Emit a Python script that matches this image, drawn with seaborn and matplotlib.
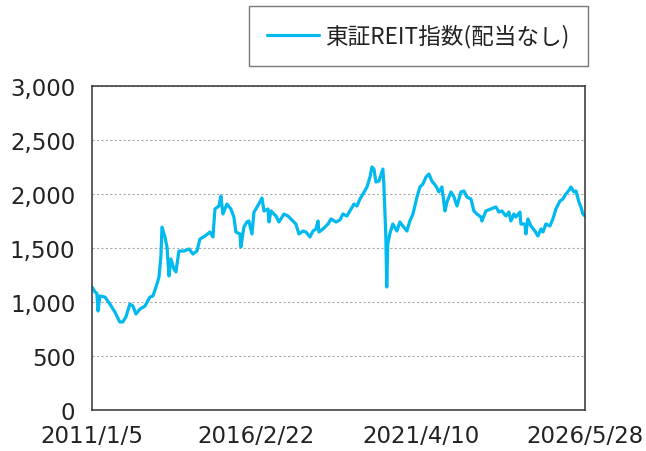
import pandas as pd
import matplotlib
matplotlib.use("Agg")
import matplotlib.pyplot as plt
import seaborn as sns

# 東証REIT指数(配当なし) - 図から読み取った値
dates = [
    "2011-01-05", "2011-02-08", "2011-03-01", "2011-03-15", "2011-04-05", "2011-06-01",
    "2011-07-28", "2011-09-23", "2011-11-18", "2011-12-22", "2012-01-26", "2012-03-12",
    "2012-04-16", "2012-05-20", "2012-07-05", "2012-08-31", "2012-10-27", "2012-11-30",
    "2013-01-04", "2013-02-07", "2013-03-01", "2013-03-13", "2013-04-16", "2013-05-09",
    "2013-06-01", "2013-06-23", "2013-07-27", "2013-08-19", "2013-09-22", "2013-11-18",
    "2014-01-15", "2014-03-01", "2014-04-16", "2014-05-20", "2014-07-16", "2014-09-11",
    "2014-10-15", "2014-11-07", "2014-12-22", "2015-01-14", "2015-02-06", "2015-03-24",
    "2015-05-08", "2015-06-11", "2015-07-04", "2015-08-19", "2015-08-30", "2015-10-03",
    "2015-11-06", "2015-11-29", "2016-01-03", "2016-01-26", "2016-02-17", "2016-04-03",
    "2016-04-26", "2016-05-19", "2016-07-04", "2016-07-15", "2016-08-07", "2016-10-03",
    "2016-11-06", "2017-01-02", "2017-02-17", "2017-04-15", "2017-05-18", "2017-06-22",
    "2017-08-07", "2017-09-10", "2017-10-26", "2017-11-29", "2018-01-02", "2018-01-25",
    "2018-02-05", "2018-03-23", "2018-05-19", "2018-06-22", "2018-08-18", "2018-10-03",
    "2018-11-06", "2018-12-21", "2019-01-24", "2019-03-11", "2019-04-15", "2019-05-19",
    "2019-06-22", "2019-08-07", "2019-09-10", "2019-10-02", "2019-10-25", "2019-11-17",
    "2019-12-21", "2020-01-24", "2020-02-04", "2020-02-15", "2020-03-09", "2020-03-19",
    "2020-03-31", "2020-04-23", "2020-05-27", "2020-07-13", "2020-08-16", "2020-09-19",
    "2020-11-04", "2020-12-08", "2021-01-12", "2021-02-27", "2021-04-02", "2021-05-06",
    "2021-06-09", "2021-07-13", "2021-08-16", "2021-10-01", "2021-11-04", "2021-12-08",
    "2022-01-12", "2022-02-04", "2022-03-22", "2022-04-25", "2022-05-29", "2022-07-13",
    "2022-08-16", "2022-09-19", "2022-11-04", "2022-12-08", "2023-01-11", "2023-02-26",
    "2023-03-09", "2023-04-24", "2023-06-20", "2023-08-16", "2023-09-19", "2023-10-23",
    "2023-12-08", "2024-01-11", "2024-02-03", "2024-03-08", "2024-03-31", "2024-05-16",
    "2024-05-27", "2024-07-12", "2024-07-23", "2024-08-15", "2024-09-18", "2024-11-03",
    "2024-12-07", "2025-01-11", "2025-02-03", "2025-03-08", "2025-04-23", "2025-05-27",
    "2025-06-30", "2025-08-15", "2025-09-18", "2025-10-22", "2025-12-07", "2025-12-18",
    "2026-01-22", "2026-02-14", "2026-03-20", "2026-04-11", "2026-05-04", "2026-05-28",
]
values = [
    1139, 1093, 1080, 917, 1056, 1046,
    981, 907, 815, 815, 861, 981,
    963, 889, 935, 963, 1046, 1056,
    1139, 1231, 1426, 1694, 1602, 1509,
    1241, 1398, 1306, 1278, 1472, 1472,
    1491, 1444, 1472, 1583, 1611, 1648,
    1602, 1861, 1889, 1981, 1815, 1907,
    1861, 1787, 1648, 1630, 1509, 1694,
    1741, 1750, 1630, 1833, 1861, 1926,
    1963, 1843, 1861, 1741, 1843, 1796,
    1741, 1815, 1796, 1750, 1722, 1630,
    1657, 1648, 1602, 1657, 1676, 1750,
    1648, 1676, 1722, 1769, 1741, 1760,
    1815, 1796, 1843, 1907, 1889, 1954,
    2000, 2065, 2157, 2250, 2231, 2111,
    2120, 2204, 2231, 2093, 1602, 1139,
    1537, 1630, 1722, 1657, 1741, 1704,
    1657, 1750, 1815, 1972, 2065, 2093,
    2157, 2185, 2120, 2074, 2019, 2065,
    1843, 1926, 2019, 1972, 1889, 2019,
    2028, 1972, 1954, 1843, 1815, 1787,
    1750, 1843, 1861, 1880, 1833, 1843,
    1796, 1833, 1750, 1815, 1787, 1833,
    1722, 1722, 1630, 1769, 1704, 1657,
    1611, 1676, 1648, 1722, 1704, 1769,
    1861, 1935, 1954, 2000, 2046, 2065,
    2019, 2028, 1926, 1880, 1815, 1796,
]
series_name = "東証REIT指数(配当なし)"
tick_dates = ["2011-01-05", "2016-02-22", "2021-04-10", "2026-05-28"]
tick_labels = ["2011/1/5", "2016/2/22", "2021/4/10", "2026/5/28"]
y_ticks = [0, 500, 1000, 1500, 2000, 2500, 3000]

df = pd.DataFrame({"date": pd.to_datetime(dates), "value": values})

sns.set_theme(style="white")
plt.rcParams["font.family"] = ["Noto Sans CJK JP", "DejaVu Sans"]

fig = plt.figure(figsize=(6.46, 4.52), dpi=100)
ax = fig.add_axes([92 / 646, 1 - 411 / 452, 493 / 646, 324 / 452])

sns.lineplot(data=df, x="date", y="value", ax=ax, color="#00B9EF", linewidth=2.3, label=series_name)

ax.set_xlim(pd.Timestamp(tick_dates[0]), pd.Timestamp(tick_dates[-1]))
ax.set_ylim(0, 3000)
ax.set_xticks(pd.to_datetime(tick_dates))
ax.set_xticklabels(tick_labels, fontfamily="DejaVu Sans", fontsize=16.5, color="#222222")
ax.set_yticks(y_ticks)
ax.set_yticklabels([f"{v:,}" for v in y_ticks], fontfamily="DejaVu Sans", fontsize=16.5, color="#222222")
ax.tick_params(axis="both", direction="in", length=5, width=1, color="#333333")
ax.tick_params(axis="y", pad=12)
ax.tick_params(axis="x", pad=10)
ax.set_xlabel("")
ax.set_ylabel("")

ax.grid(axis="y", color="#aaaaaa", linestyle=(0, (2, 2)), linewidth=0.8)
ax.grid(axis="x", visible=False)
for s in ax.spines.values():
    s.set_color("#333333")
    s.set_linewidth(1.1)

ax.get_legend().remove()
handles, labels = ax.get_legend_handles_labels()
leg = fig.legend(handles, labels, loc="upper right", bbox_to_anchor=(588 / 646, 1 - 7 / 452),
                 frameon=True, fancybox=False, fontsize=16.3, handlelength=2.3,
                 handletextpad=0.3, borderpad=0.8, borderaxespad=0)
leg.get_frame().set_edgecolor("#555555")
leg.get_frame().set_linewidth(1.0)
for t in leg.get_texts():
    t.set_color("#222222")

fig.savefig("out.png", dpi=100)
